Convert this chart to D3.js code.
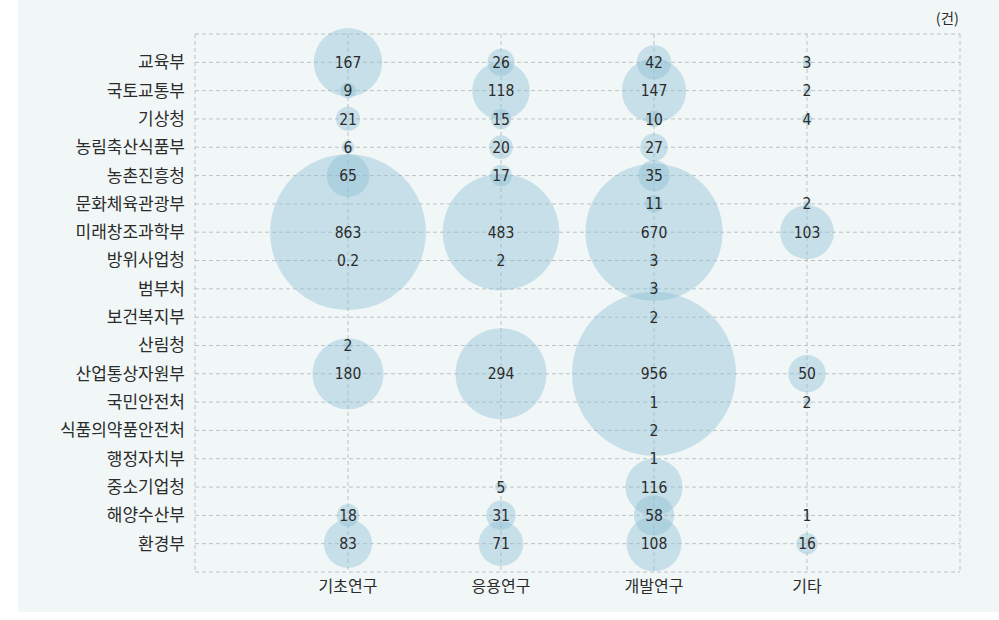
<!DOCTYPE html>
<html>
<head>
<meta charset="utf-8">
<script src="https://cdn.jsdelivr.net/npm/d3@7"></script>
<style>
  body { margin: 0; background: #fff; }
  svg text { font-family: "Noto Sans CJK KR", "Noto Sans", sans-serif; fill: #2b2b2b; }
  svg text.num { font-family: "DejaVu Sans Condensed", "DejaVu Sans", sans-serif; font-stretch: condensed; }
</style>
</head>
<body>
<svg id="chart" width="999" height="620"></svg>
<script>
// 부처별 연구단계 과제수 (건)
var agencies = ["교육부", "국토교통부", "기상청", "농림축산식품부", "농촌진흥청", "문화체육관광부",
  "미래창조과학부", "방위사업청", "범부처", "보건복지부", "산림청", "산업통상자원부",
  "국민안전처", "식품의약품안전처", "행정자치부", "중소기업청", "해양수산부", "환경부"];
var stages = ["기초연구", "응용연구", "개발연구", "기타"];

// null = no value
var basic   = [167, 9, 21, 6, 65, null, 863, 0.2, null, null, 2, 180, null, null, null, null, 18, 83];
var applied = [26, 118, 15, 20, 17, null, 483, 2, null, null, null, 294, null, null, null, 5, 31, 71];
var develop = [42, 147, 10, 27, 35, 11, 670, 3, 3, 2, null, 956, 1, 2, 1, 116, 58, 108];
var other   = [3, 2, 4, null, null, 2, 103, null, null, null, null, 50, 2, null, null, null, 1, 16];
var unit = "(건)";

var series = [basic, applied, develop, other];
var cells = [];
series.forEach(function (vals, j) {
  vals.forEach(function (v, i) {
    if (v != null) cells.push({ agency: agencies[i], stage: stages[j], value: v });
  });
});

var svg = d3.select("#chart");
// plot box (note: "top" is taken by window.top)
var pLeft = 195, pRight = 960, pTop = 34, pBottom = 572;

svg.append("rect")
  .attr("x", 18).attr("y", 0)
  .attr("width", 981).attr("height", 612)
  .attr("fill", "#f1f7f7");

var x = d3.scalePoint().domain(stages).range([pLeft, pRight]).padding(1);
var y = d3.scalePoint().domain(agencies).range([pTop, pBottom]).padding(1);
var r = d3.scaleSqrt().domain([0, 956]).range([0, 82]);

// grid
var grid = svg.append("g")
  .attr("stroke", "#bcc2c4")
  .attr("stroke-width", 1)
  .attr("stroke-dasharray", "4,3");

var hs = [pTop].concat(agencies.map(function (a) { return y(a); }), [pBottom]);
grid.selectAll("line.h").data(hs).enter().append("line")
  .attr("x1", pLeft).attr("x2", pRight)
  .attr("y1", function (d) { return d; })
  .attr("y2", function (d) { return d; });

var vs = [pLeft].concat(stages.map(function (s) { return x(s); }), [pRight]);
grid.selectAll("line.v").data(vs).enter().append("line")
  .attr("y1", pTop).attr("y2", pBottom)
  .attr("x1", function (d) { return d; })
  .attr("x2", function (d) { return d; });

// bubbles
svg.append("g").selectAll("circle")
  .data(cells).enter().append("circle")
  .attr("cx", function (d) { return x(d.stage); })
  .attr("cy", function (d) { return y(d.agency); })
  .attr("r", function (d) { return r(d.value); })
  .attr("fill", "rgb(140,190,212)")
  .attr("fill-opacity", 0.42);

// value labels
svg.append("g").selectAll("text")
  .data(cells).enter().append("text")
  .attr("class", "num")
  .attr("x", function (d) { return x(d.stage); })
  .attr("y", function (d) { return y(d.agency); })
  .attr("dy", "0.36em")
  .attr("text-anchor", "middle")
  .attr("font-size", 15.5)
  .text(function (d) { return d.value; });

// y axis labels
svg.append("g").selectAll("text")
  .data(agencies).enter().append("text")
  .attr("x", 185)
  .attr("y", function (d) { return y(d); })
  .attr("dy", "0.35em")
  .attr("text-anchor", "end")
  .attr("font-size", 17)
  .text(function (d) { return d; });

// x axis labels
svg.append("g").selectAll("text")
  .data(stages).enter().append("text")
  .attr("x", function (d) { return x(d); })
  .attr("y", 586)
  .attr("dy", "0.35em")
  .attr("text-anchor", "middle")
  .attr("font-size", 16)
  .text(function (d) { return d; });

svg.append("text")
  .attr("x", 959).attr("y", 19)
  .attr("dy", "0.35em")
  .attr("text-anchor", "end")
  .attr("font-size", 14.5)
  .text(unit);
</script>
</body>
</html>
